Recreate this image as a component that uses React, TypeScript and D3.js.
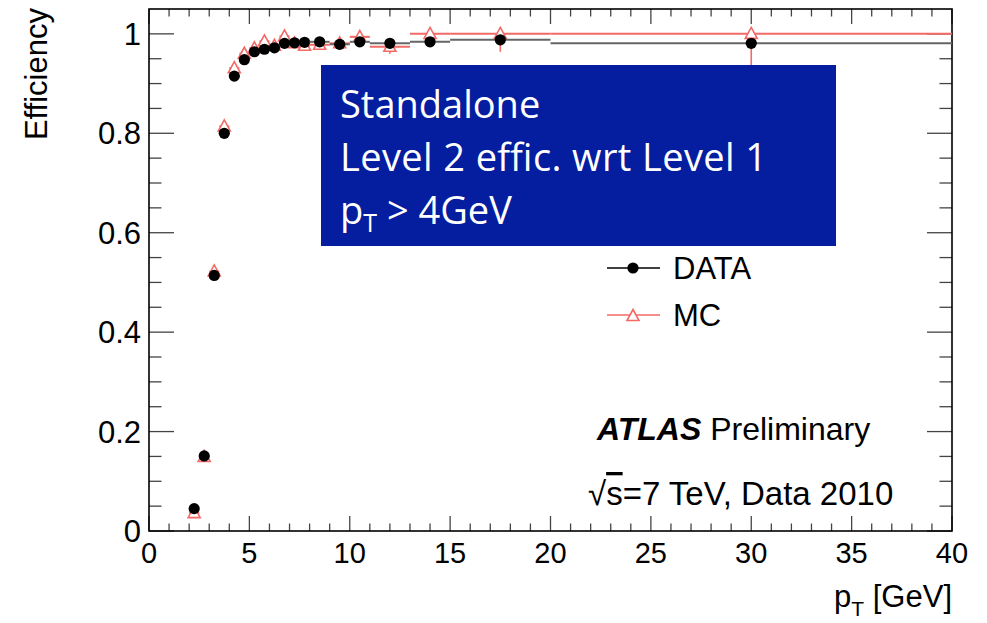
import React from "react";
import * as d3 from "d3";

const binLo = [2, 2.5, 3, 3.5, 4, 4.5, 5, 5.5, 6, 6.5, 7, 7.5, 8, 9, 10, 11, 13, 15, 20];
const binHi = [2.5, 3, 3.5, 4, 4.5, 5, 5.5, 6, 6.5, 7, 7.5, 8, 9, 10, 11, 13, 15, 20, 40];
const dataEff = [0.045, 0.151, 0.514, 0.8, 0.915, 0.948, 0.964, 0.969, 0.972, 0.981, 0.982, 0.983, 0.984, 0.979, 0.984, 0.981, 0.984, 0.988, 0.981];
const dataErr = [0.004, 0.006, 0.008, 0.007, 0.005, 0.004, 0.004, 0.004, 0.004, 0.004, 0.004, 0.004, 0.004, 0.004, 0.005, 0.005, 0.006, 0.006, 0.006];
const mcEff = [0.036, 0.149, 0.522, 0.814, 0.931, 0.96, 0.971, 0.985, 0.976, 0.995, 0.981, 0.976, 0.978, 0.981, 0.994, 0.974, 1.0, 1.0, 1.0];
const mcErrLo = [0.005, 0.008, 0.01, 0.009, 0.007, 0.006, 0.006, 0.006, 0.006, 0.006, 0.007, 0.008, 0.008, 0.008, 0.01, 0.014, 0.012, 0.036, 0.075];
const mcErrHi = [0.005, 0.008, 0.01, 0.009, 0.007, 0.006, 0.006, 0.006, 0.006, 0.005, 0.007, 0.008, 0.008, 0.008, 0.006, 0.01, 0.0, 0.0, 0.0];
const xTicks = [0, 5, 10, 15, 20, 25, 30, 35, 40];
const yTicks = [0, 0.2, 0.4, 0.6, 0.8, 1];
const boxLines = ["Standalone", "Level 2 effic. wrt Level 1"];

const W = 987, H = 623;
const L = 149, R = 952, T = 9, B = 531;
const RED = "#f26a66";
const FONT = "'Liberation Sans', Arial, Helvetica, sans-serif";

export default function App() {
  const x = d3.scaleLinear().domain([0, 40]).range([L, R]);
  const y = d3.scaleLinear().domain([0, 1.05]).range([B, T]);
  const xMinor = d3.range(0, 41, 1);
  const yMinor = d3.range(0, 21).map((i) => i * 0.05);
  const tri = (cx: number, cy: number) =>
    `M${cx},${cy - 6.5}L${cx + 6},${cy + 4.5}L${cx - 6},${cy + 4.5}Z`;

  return (
    <div style={{ position: "absolute", left: 0, top: 0 }}>
      <svg width={W} height={H} style={{ display: "block", background: "#fff" }}>
        {/* ticks */}
        <g stroke="#444" strokeWidth={1.3}>
          {xMinor.map((v) => {
            const major = v % 5 === 0;
            const len = major ? 15 : 7.5;
            return (
              <g key={"xt" + v}>
                <line x1={x(v)} x2={x(v)} y1={B} y2={B - len} />
                <line x1={x(v)} x2={x(v)} y1={T} y2={T + len} />
              </g>
            );
          })}
          {yMinor.map((v, i) => {
            const major = i % 4 === 0;
            const len = major ? 25 : 12.5;
            return (
              <g key={"yt" + i}>
                <line x1={L} x2={L + len} y1={y(v)} y2={y(v)} />
                <line x1={R} x2={R - len} y1={y(v)} y2={y(v)} />
              </g>
            );
          })}
        </g>
        <rect x={L} y={T} width={R - L} height={B - T} fill="none" stroke="#000" strokeWidth={1.6} />

        {/* MC */}
        <g stroke={RED} fill="none" strokeWidth={1.6}>
          {mcEff.map((v, i) => {
            const cx = x((binLo[i] + binHi[i]) / 2);
            return (
              <g key={"mc" + i}>
                <line x1={x(binLo[i])} x2={x(binHi[i])} y1={y(v)} y2={y(v)} strokeWidth={2} />
                <line x1={cx} x2={cx} y1={y(v - mcErrLo[i])} y2={y(Math.min(v + mcErrHi[i], 1))} />
                <path d={tri(cx, y(v))} fill="#fff" />
              </g>
            );
          })}
        </g>

        {/* DATA */}
        <g>
          {dataEff.map((v, i) => {
            const cx = x((binLo[i] + binHi[i]) / 2);
            return (
              <g key={"d" + i}>
                <line x1={x(binLo[i])} x2={x(binHi[i])} y1={y(v)} y2={y(v)} stroke="#666" strokeWidth={2} />
                <line x1={cx} x2={cx} y1={y(v - dataErr[i])} y2={y(v + dataErr[i])} stroke="#222" strokeWidth={1.5} />
                <circle cx={cx} cy={y(v)} r={5.6} fill="#000" />
              </g>
            );
          })}
        </g>

        {/* tick labels */}
        <g fontFamily={FONT} fill="#000">
          {xTicks.map((v) => (
            <text key={"xl" + v} x={x(v)} y={563} textAnchor="middle" fontSize={29}>{v}</text>
          ))}
          {yTicks.map((v) => (
            <text key={"yl" + v} x={141} y={y(v) + 11} textAnchor="end" fontSize={31}>{String(v)}</text>
          ))}
        </g>

        {/* axis titles */}
        <text fontFamily={FONT} fontSize={31} x={0} y={0} transform="translate(47,8) rotate(-90)" textAnchor="end">Efficiency</text>
        <text fontFamily={FONT} fontSize={31} x={952} y={607} textAnchor="end">
          p<tspan fontSize={21} dy={9}>T</tspan><tspan dy={-9}> [GeV]</tspan>
        </text>

        {/* blue box */}
        <rect x={321} y={65} width={515} height={181} fill="#051d9f" />
        <g fontFamily="'Open Sans', 'Noto Sans', sans-serif" fontSize={38} fill="#fff">
          <text x={340} y={118}>{boxLines[0]}</text>
          <text x={340} y={171} textLength={427} lengthAdjust="spacing">{boxLines[1]}</text>
          <text x={340} y={224}>
            p<tspan fontSize={25} dy={8}>T</tspan><tspan dy={-8}> &gt; 4GeV</tspan>
          </text>
        </g>

        {/* legend */}
        <g>
          <line x1={607} x2={660} y1={268} y2={268} stroke="#000" strokeWidth={1.5} />
          <circle cx={633} cy={268} r={5.6} fill="#000" />
          <text x={673} y={279} fontFamily={FONT} fontSize={31}>DATA</text>
          <line x1={607} x2={660} y1={315} y2={315} stroke={RED} strokeWidth={1.6} />
          <path d={tri(633, 316)} fill="#fff" stroke={RED} strokeWidth={1.6} />
          <text x={673} y={326} fontFamily={FONT} fontSize={31}>MC</text>
        </g>

        {/* ATLAS labels */}
        <text x={597} y={440} fontFamily={FONT} fontSize={32}>
          <tspan fontWeight="bold" fontStyle="italic">ATLAS</tspan> Preliminary
        </text>
        <text x={588} y={505} fontFamily={FONT} fontSize={33}>
          √<tspan style={{ textDecoration: "overline" }}>s</tspan>=7 TeV, Data 2010
        </text>
      </svg>
    </div>
  );
}
